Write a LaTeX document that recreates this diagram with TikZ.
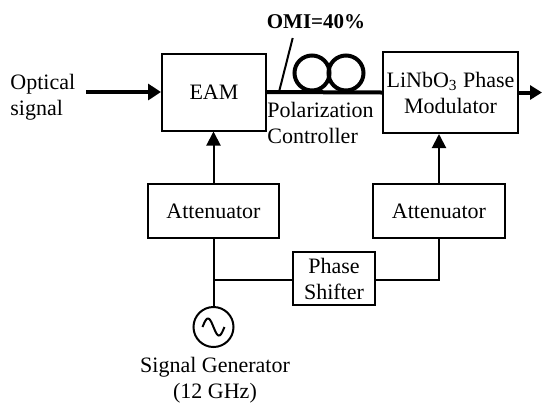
\documentclass[tikz,border=0pt]{standalone}
\usepackage{fontspec}
\setmainfont{Liberation Serif}
\usetikzlibrary{arrows.meta}
\begin{document}
\begin{tikzpicture}[x=0.5pt,y=-0.5pt,
  txt/.style={font=\fontsize{11}{13}\selectfont, inner sep=0pt},
  blk/.style={draw, line width=1pt, inner sep=0pt, align=center, font=\fontsize{11}{13}\selectfont},
  thin/.style={line width=1pt},
  optic/.style={line width=2pt},
  tipH/.style={-{Triangle[length=6.5pt,width=8pt]}},
  tipV/.style={-{Triangle[length=7pt,width=7pt]}}]
\useasboundingbox (0,0) rectangle (542,403);
% blocks
\node[blk, minimum width=52pt, minimum height=38.5pt] (eam) at (214,92) {EAM};
\node[blk, minimum width=67.5pt, minimum height=40.5pt] (pm) at (450.5,92.5) {LiNbO\textsubscript{3} Phase\\Modulator};
\node[blk, minimum width=65.5pt, minimum height=27pt] (att1) at (213.5,211) {Attenuator};
\node[blk, minimum width=66pt, minimum height=27pt] (att2) at (439,211) {Attenuator};
\node[blk, minimum width=41pt, minimum height=26.5pt] (ps) at (334,278.5) {Phase\\Shifter};
\node[draw, circle, line width=1pt, minimum size=20pt, inner sep=0pt] (gen) at (213.5,327) {};
\draw[thin] plot[domain=0:360, samples=40] ({202.5+\x/16.4}, {327-8.5*sin(\x)});
% polarization controller loops
\node[draw, circle, line width=2pt, minimum size=17.5pt, inner sep=0pt] (pc1) at (312,73) {};
\node[draw, circle, line width=2pt, minimum size=17.5pt, inner sep=0pt] (pc2) at (346,73) {};
% labels
\node[txt, anchor=west, align=left] (opt) at (10,97) {Optical\\signal};
\node[txt, anchor=west, align=left] (pclab) at (267,122.5) {Polarization\\Controller};
\node[txt, anchor=base, font=\fontsize{10.5}{13}\selectfont\bfseries] (omi) at (316,28) {OMI=40\%};
\node[txt, align=center] (genlab) at (215,380) {Signal Generator\\(12 GHz)};
\coordinate (s1) at (292.7,38);
\coordinate (s2) at (279,92);
\draw[thin] (s1) -- (s2);
% optical path
\coordinate (in) at (86,92);
\coordinate (out) at (542,92.5);
\draw[optic, tipH] (in) -- (eam.west);
\draw[optic] (eam.east) -- (pm.west);
\draw[optic, -{Triangle[length=6pt,width=7pt]}] (pm.east) -- (out);
% electrical path
\draw[thin, tipV] (att1.north) -- (att1.north |- eam.south);
\draw[thin, tipV] (att2.north) -- (att2.north |- pm.south);
\draw[thin] (att1.south) -- (gen.north);
\coordinate (j) at (213.5,280);
\draw[thin] (j) -- (j -| ps.west);
\draw[thin] (ps.east |- j) -| (att2.south);
\end{tikzpicture}
\end{document}
